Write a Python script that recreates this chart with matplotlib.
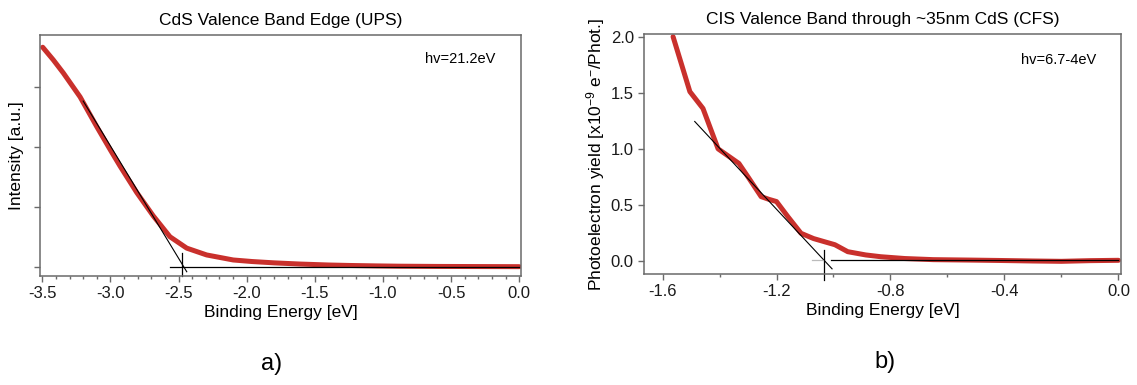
import matplotlib
matplotlib.use("Agg")
import matplotlib.pyplot as plt
from matplotlib.ticker import MultipleLocator, NullFormatter

plt.rcParams['font.family'] = ['Liberation Sans', 'DejaVu Sans']
plt.rcParams['mathtext.fontset'] = 'custom'
plt.rcParams['mathtext.rm'] = 'Liberation Sans'
plt.rcParams['mathtext.it'] = 'Liberation Sans:italic'

# ---- Panel a data: CdS valence band edge (UPS) ----
be_a = [-3.497, -3.42, -3.346, -3.223, -3.10, -3.00, -2.929, -2.807, -2.686,
        -2.563, -2.44, -2.294, -2.099, -1.96, -1.80, -1.61, -1.40, -1.24,
        -1.05, -0.88, -0.60, -0.30, 0.0]
int_a = [3.67, 3.46, 3.24, 2.84, 2.34, 1.95, 1.68, 1.24, 0.85,
         0.50, 0.31, 0.196, 0.112, 0.086, 0.064, 0.044, 0.028, 0.020,
         0.013, 0.008, 0.004, 0.002, 0.0]
fit_a_x = [-3.20, -2.44]
fit_a_y = [2.77, -0.085]
base_a_x = [-2.563, 0.0]
vbm_a = -2.473

# ---- Panel b data: CIS valence band through ~35nm CdS (CFS) ----
be_b = [-1.563, -1.504, -1.458, -1.405, -1.332, -1.30, -1.254, -1.227, -1.20,
        -1.16, -1.114, -1.07, -1.032, -0.995, -0.95, -0.887, -0.834, -0.75,
        -0.65, -0.516, -0.40, -0.30, -0.20, -0.10, 0.0]
yld_b = [2.0, 1.51, 1.36, 1.0, 0.87, 0.75, 0.574, 0.55, 0.53,
         0.395, 0.247, 0.20, 0.172, 0.145, 0.083, 0.054, 0.038, 0.022,
         0.012, 0.008, 0.004, 0.000, -0.003, 0.003, 0.006]
fit_b_x = [-1.487, -1.005]
fit_b_y = [1.244, -0.07]
base_b_x = [-1.009, 0.0]
vbm_b = -1.032

W, H = 1137, 385
fig = plt.figure(figsize=(W / 100, H / 100), dpi=100)

def box(l, t, r, b):
    return [l / W, 1 - b / H, (r - l) / W, (b - t) / H]

red = '#c9302c'
spine_c = '#6a6a6a'

ax1 = fig.add_axes(box(40, 35, 521, 276))
ax2 = fig.add_axes(box(644, 34, 1121, 274))

for ax in (ax1, ax2):
    for s in ax.spines.values():
        s.set_color(spine_c)
        s.set_linewidth(1.1)
    ax.tick_params(which='both', direction='out', color=spine_c, labelsize=12,
                   labelcolor='#1a1a1a', top=False, right=False, pad=3)
    ax.tick_params(which='major', length=4.3, width=1.0)
    ax.tick_params(which='minor', length=2.5, width=1.0)

# Panel a
ax1.plot(be_a, int_a, color=red, lw=3.6, solid_capstyle='round', solid_joinstyle='round')
ax1.plot(fit_a_x, fit_a_y, color='black', lw=0.8, clip_on=False)
ax1.plot(base_a_x, [0, 0], color='black', lw=0.9)
ax1.plot([vbm_a, vbm_a], [0.234, -0.16], color='black', lw=0.9, clip_on=False)
ax1.set_xlim(-3.517, 0.013)
ax1.set_ylim(-0.156, 3.875)
ax1.set_xticks([-3.5, -3.0, -2.5, -2.0, -1.5, -1.0, -0.5, 0.0])
ax1.set_xticklabels(['-3.5', '-3.0', '-2.5', '-2.0', '-1.5', '-1.0', '-0.5', '0.0'])
ax1.xaxis.set_minor_locator(MultipleLocator(0.1))
ax1.yaxis.set_major_locator(MultipleLocator(1))
ax1.yaxis.set_major_formatter(NullFormatter())
ax1.set_xlabel('Binding Energy [eV]', fontsize=12.5, labelpad=3)
ax1.set_ylabel('Intensity [a.u.]', fontsize=12.5, labelpad=4)
ax1.set_title('CdS Valence Band Edge (UPS)', fontsize=12.5, pad=7)
ax1.text(-0.435, 3.47, 'hv=21.2eV', fontsize=10.5, ha='center', va='center')
fig.text(272 / W, 1 - 364 / H, 'a)', fontsize=17, ha='center', va='center')

# Panel b
ax2.plot(be_b, yld_b, color=red, lw=3.6, solid_capstyle='round', solid_joinstyle='round')
ax2.plot(fit_b_x, fit_b_y, color='black', lw=0.8)
ax2.plot(base_b_x, [0.008, 0.008], color='black', lw=0.9)
ax2.plot([-1.075, vbm_b], [0.008, 0.008], color='#bbbbbb', lw=0.9)
ax2.plot([vbm_b, vbm_b], [0.10, -0.17], color='black', lw=0.9, clip_on=False)
ax2.set_xlim(-1.665, 0.009)
ax2.set_ylim(-0.116, 2.024)
ax2.set_xticks([-1.6, -1.2, -0.8, -0.4, 0.0])
ax2.set_xticklabels(['-1.6', '-1.2', '-0.8', '-0.4', '0.0'])
ax2.xaxis.set_minor_locator(MultipleLocator(0.2))
ax2.set_yticks([0.0, 0.5, 1.0, 1.5, 2.0])
ax2.set_yticklabels(['0.0', '0.5', '1.0', '1.5', '2.0'])
ax2.set_xlabel('Binding Energy [eV]', fontsize=12.5, labelpad=3)
ax2.set_ylabel('Photoelectron yield [x10$^{-9}$ e$^{-}$/Phot.]', fontsize=12.5, labelpad=3)
ax2.set_title('CIS Valence Band through ~35nm CdS (CFS)', fontsize=12.5, pad=7)
ax2.text(-0.211, 1.795, 'hv=6.7-4eV', fontsize=10.5, ha='center', va='center')
fig.text(885 / W, 1 - 362 / H, 'b)', fontsize=17, ha='center', va='center')

fig.savefig('out.png', dpi=100)
